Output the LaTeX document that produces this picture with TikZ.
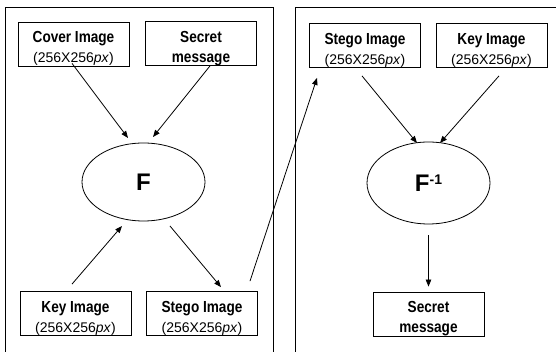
\documentclass[tikz,border=0pt]{standalone}
\usepackage{fontspec}
\setmainfont{Liberation Sans}
\usepackage{graphicx}
\usetikzlibrary{positioning,shapes.geometric,arrows.meta}

% bold, slightly narrowed box titles
\newcommand{\ttl}[1]{\scalebox{0.85}[1]{\fontsize{16}{20}\selectfont\bfseries #1}}
\newcommand{\imsize}{(256X256\textit{px})}

\begin{document}
\begin{tikzpicture}[x=1pt,y=1pt,line width=0.8pt,
box/.style={draw,rectangle,minimum width=111pt,minimum height=44pt,
inner sep=0pt,align=center,text height=38pt,text depth=0pt,
font=\fontsize{14}{20}\selectfont},
fn/.style={draw,ellipse,minimum width=123pt,minimum height=78pt,
inner sep=0pt,font=\fontsize{24}{24}\selectfont\bfseries},
arr/.style={-{Triangle[length=7pt,width=5.5pt]}}]
\useasboundingbox (0,0) rectangle (556,352);

% the two panels
\draw (5,-2) -- (5,345) -- (273,345) -- (273,-2);
\draw (295,-2) -- (295,345) -- (558,345);

% embedding
\node[box] (cover) at (73.5,308) {\ttl{Cover Image}\\\imsize};
\node[box] (secret) at (201,308.5) {\ttl{Secret}\\\ttl{message}};
\node[fn] (f) at (143.5,170) {F};
\node[box] (key) at (75.5,38.5) {\ttl{Key Image}\\\imsize};
\node[box] (stego) at (202,38.5) {\ttl{Stego Image}\\\imsize};

% extraction
\node[box] (stegob) at (365,306.5) {\ttl{Stego Image}\\\imsize};
\node[box] (keyb) at (491.5,306.5) {\ttl{Key Image}\\\imsize};
\node[fn,minimum height=82pt] (finv) at (428.5,169)
  {F\raisebox{7pt}{\fontsize{14}{14}\selectfont -1}};
\node[box] (secretb) at (428.5,38) {\ttl{Secret}\\\ttl{message}};

\draw[arr] ([shift={(-1.5pt,3pt)}]cover.south) -- ([shift={(-15.5pt,44pt)}]f.center);
\draw[arr] ([shift={(9pt,0pt)}]secret.south) -- ([shift={(9.5pt,45pt)}]f.center);
\draw[arr] ([shift={(-3.5pt,7pt)}]key.north) -- ([shift={(-21.5pt,-44pt)}]f.center);
\draw[arr] ([shift={(26.5pt,-44pt)}]f.center) -- ([shift={(19pt,4pt)}]stego.north);
\draw[arr] ([shift={(48pt,10pt)}]stego.north) -- ([shift={(-48pt,-10pt)}]stegob.south);
\draw[arr] ([shift={(-3pt,-8pt)}]stegob.south) -- ([shift={(-11.5pt,40pt)}]finv.center);
\draw[arr] ([shift={(7.5pt,-8pt)}]keyb.south) -- ([shift={(11.5pt,40pt)}]finv.center);
\draw[arr] ([yshift=-11pt]finv.south) -- ([yshift=5pt]secretb.north);
\end{tikzpicture}
\end{document}
